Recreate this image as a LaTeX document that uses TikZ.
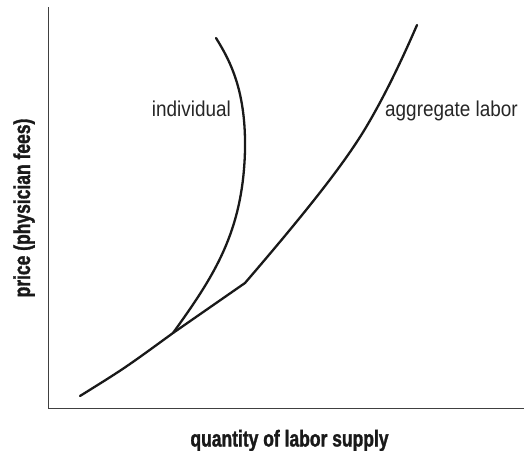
\documentclass[tikz,border=0pt]{standalone}
\usepackage{fontspec}
\setmainfont{Liberation Sans}
\newfontfamily\narrowfont[FakeStretch=0.88]{Liberation Sans}
\newfontfamily\condfont[FakeStretch=0.76,FakeBold=1.3]{Liberation Sans Bold}
\usetikzlibrary{positioning}

\tikzset{
    axisline/.style={black!75,line width=1pt},
    supply/.style={black!90,line width=2.3pt,line cap=round},
    curvelabel/.style={font=\narrowfont\fontsize{21.5}{24}\selectfont,text=black!85,inner sep=0pt},
    axislabel/.style={font=\condfont\fontsize{23}{26}\selectfont,text=black!90,inner sep=0pt}
}

\begin{document}
\begin{tikzpicture}[x=1pt,y=-1pt]
            \useasboundingbox (0,0) rectangle (524,450);
            % axes
            \coordinate (top) at (48,7);
            \coordinate (origin) at (48,408);
            \coordinate (right) at (524,408);
            \draw[axisline] (top) -- (origin) -- (right);
            % points on the curves
            \coordinate (start) at (80,396);
            \coordinate (join) at (173,333);
            \coordinate (kink) at (245,283);
            \coordinate (bend) at (365,129);
            \coordinate (aggend) at (417,25);
            \coordinate (widest) at (245,150);
            \coordinate (indend) at (216,38);
            \draw[supply] (start) .. controls (125,368) .. (join) -- (kink)
                .. controls (312,205) and (345,162) .. (bend)
                .. controls (386,94) and (404,55) .. (aggend);
            \draw[supply] (join) .. controls (214,276) and (243,232) .. (widest)
                .. controls (246,92) and (231,62) .. (indend);
            % labels
            \node[curvelabel,anchor=base east] (individual) at (231,116) {individual};
            \node[curvelabel,anchor=base west] (aggregate) at (385,116) {aggregate labor};
            \node[axislabel,anchor=base] (quantity) at (289.5,446.5) {quantity of labor supply};
            \node[axislabel,anchor=base,rotate=90] (price) at (30,208) {price (physician fees)};
        \end{tikzpicture}
\end{document}
